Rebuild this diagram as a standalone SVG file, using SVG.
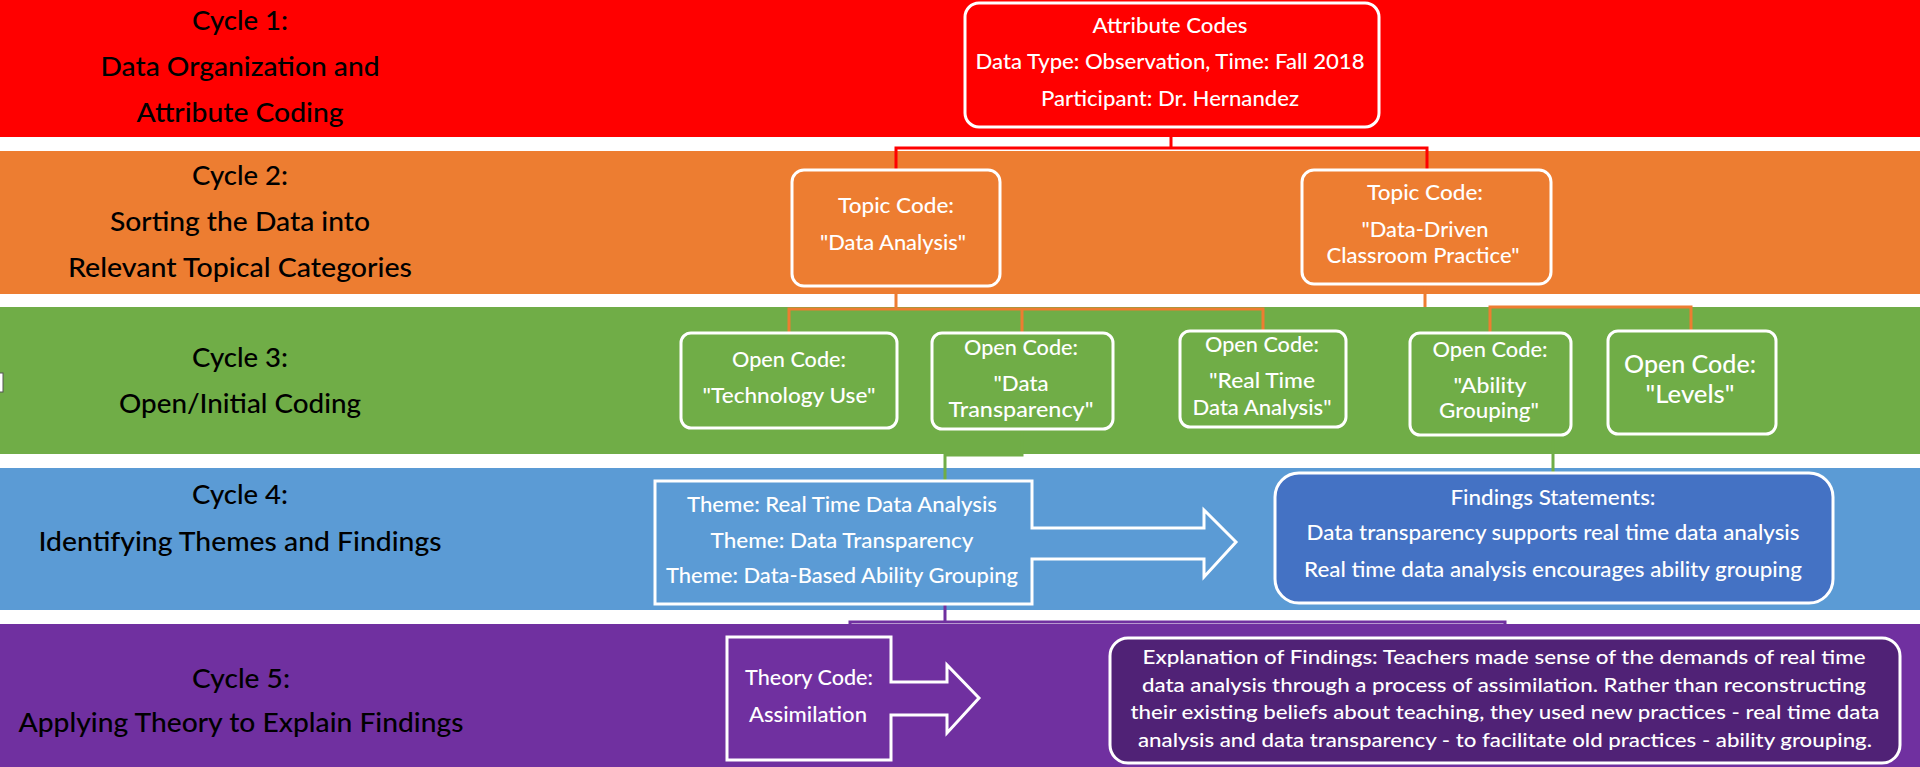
<svg xmlns="http://www.w3.org/2000/svg" width="1920" height="767" viewBox="0 0 1920 767">
<style>
  .lbl{font-family:Lato,"Liberation Sans",sans-serif;font-size:27px;font-weight:500;fill:#000;text-anchor:middle}
  .wt{font-family:Lato,"Liberation Sans",sans-serif;font-size:21px;font-weight:500;fill:#fff;text-anchor:middle}
  .wt2{font-family:Lato,"Liberation Sans",sans-serif;font-size:24px;font-weight:500;fill:#fff;text-anchor:middle}
  .ex{font-family:Lato,"Liberation Sans",sans-serif;font-size:20px;font-weight:500;fill:#fff;text-anchor:middle}
  .box{stroke:#fff;stroke-width:3}
  .conn{fill:none;stroke-width:3}
</style>
<rect width="1920" height="767" fill="#fff"/>
<g id="bands">
  <rect x="0" y="0" width="1920" height="137" fill="#FF0000"/>
  <rect x="0" y="151" width="1920" height="143" fill="#ED7D31"/>
  <rect x="0" y="307" width="1920" height="147" fill="#70AD47"/>
  <rect x="0" y="468" width="1920" height="142" fill="#5B9BD5"/>
  <rect x="0" y="624" width="1920" height="143" fill="#7030A0"/>
  <rect x="-1" y="373" width="4" height="19" fill="#fff" stroke="#555" stroke-width="1"/>
</g>
<g id="labels">
  <text class="lbl" x="240" y="30" textLength="96" lengthAdjust="spacingAndGlyphs">Cycle 1:</text>
  <text class="lbl" x="240" y="76" textLength="279" lengthAdjust="spacingAndGlyphs">Data Organization and</text>
  <text class="lbl" x="240" y="122" textLength="207" lengthAdjust="spacingAndGlyphs">Attribute Coding</text>
  <text class="lbl" x="240" y="185" textLength="96" lengthAdjust="spacingAndGlyphs">Cycle 2:</text>
  <text class="lbl" x="240" y="231" textLength="260" lengthAdjust="spacingAndGlyphs">Sorting the Data into</text>
  <text class="lbl" x="240" y="277" textLength="344" lengthAdjust="spacingAndGlyphs">Relevant Topical Categories</text>
  <text class="lbl" x="240" y="367" textLength="96" lengthAdjust="spacingAndGlyphs">Cycle 3:</text>
  <text class="lbl" x="240" y="413" textLength="242" lengthAdjust="spacingAndGlyphs">Open/Initial Coding</text>
  <text class="lbl" x="240" y="504" textLength="96" lengthAdjust="spacingAndGlyphs">Cycle 4:</text>
  <text class="lbl" x="240" y="551" textLength="403" lengthAdjust="spacingAndGlyphs">Identifying Themes and Findings</text>
  <text class="lbl" x="241" y="688" textLength="98" lengthAdjust="spacingAndGlyphs">Cycle 5:</text>
  <text class="lbl" x="241" y="732" textLength="445" lengthAdjust="spacingAndGlyphs">Applying Theory to Explain Findings</text>
</g>
<g id="connectors">
  <path class="conn" stroke="#FF0000" d="M1171,127 V148 M896,170 V148 H1427 V170"/>
  <path class="conn" stroke="#ED7D31" d="M896,286 V309 M789,333 V309 H1263 V331 M1022,309 V333"/>
  <path class="conn" stroke="#ED7D31" d="M1425,284 V307 M1490,333 V307 H1691 V331"/>
  <path class="conn" stroke="#70AD47" d="M1022,429 V455 H945 V481 M1553,434 V473"/>
  <path class="conn" stroke="#7030A0" d="M945,604 V622 M850,637 V622 H1505 V638"/>
</g>
<g id="attribute-codes">
  <rect class="box" x="965" y="3" width="414" height="124" rx="14" fill="#FF0000"/>
  <text class="wt" x="1170" y="33" textLength="155" lengthAdjust="spacingAndGlyphs">Attribute Codes</text>
  <text class="wt" x="1170" y="69" textLength="389" lengthAdjust="spacingAndGlyphs">Data Type: Observation, Time: Fall 2018</text>
  <text class="wt" x="1170" y="106" textLength="258" lengthAdjust="spacingAndGlyphs">Participant: Dr. Hernandez</text>
</g>
<g id="topic-data-analysis">
  <rect class="box" x="792" y="170" width="208" height="116" rx="12" fill="#ED7D31"/>
  <text class="wt" x="896" y="213" textLength="116" lengthAdjust="spacingAndGlyphs">Topic Code:</text>
  <text class="wt" x="893" y="250" textLength="146" lengthAdjust="spacingAndGlyphs">"Data Analysis"</text>
</g>
<g id="topic-data-driven">
  <rect class="box" x="1302" y="170" width="249" height="114" rx="12" fill="#ED7D31"/>
  <text class="wt" x="1425" y="200" textLength="116" lengthAdjust="spacingAndGlyphs">Topic Code:</text>
  <text class="wt" x="1425" y="237" textLength="127" lengthAdjust="spacingAndGlyphs">"Data-Driven</text>
  <text class="wt" x="1423" y="263" textLength="193" lengthAdjust="spacingAndGlyphs">Classroom Practice"</text>
</g>
<g id="open-technology-use">
  <rect class="box" x="681" y="333" width="216" height="95" rx="10" fill="#70AD47"/>
  <text class="wt" x="789" y="367" textLength="114" lengthAdjust="spacingAndGlyphs">Open Code:</text>
  <text class="wt" x="789" y="403" textLength="173" lengthAdjust="spacingAndGlyphs">"Technology Use"</text>
</g>
<g id="open-data-transparency">
  <rect class="box" x="932" y="333" width="181" height="96" rx="10" fill="#70AD47"/>
  <text class="wt" x="1021" y="355" textLength="114" lengthAdjust="spacingAndGlyphs">Open Code:</text>
  <text class="wt" x="1021" y="391" textLength="55" lengthAdjust="spacingAndGlyphs">"Data</text>
  <text class="wt" x="1021" y="417" textLength="145" lengthAdjust="spacingAndGlyphs">Transparency"</text>
</g>
<g id="open-real-time">
  <rect class="box" x="1180" y="331" width="166" height="96" rx="10" fill="#70AD47"/>
  <text class="wt" x="1262" y="352" textLength="114" lengthAdjust="spacingAndGlyphs">Open Code:</text>
  <text class="wt" x="1262" y="388" textLength="106" lengthAdjust="spacingAndGlyphs">"Real Time</text>
  <text class="wt" x="1262" y="415" textLength="139" lengthAdjust="spacingAndGlyphs">Data Analysis"</text>
</g>
<g id="open-ability-grouping">
  <rect class="box" x="1410" y="333" width="161" height="102" rx="10" fill="#70AD47"/>
  <text class="wt" x="1490" y="357" textLength="115" lengthAdjust="spacingAndGlyphs">Open Code:</text>
  <text class="wt" x="1490" y="393" textLength="73" lengthAdjust="spacingAndGlyphs">"Ability</text>
  <text class="wt" x="1489" y="418" textLength="100" lengthAdjust="spacingAndGlyphs">Grouping"</text>
</g>
<g id="open-levels">
  <rect class="box" x="1608" y="331" width="168" height="103" rx="10" fill="#70AD47"/>
  <text class="wt2" x="1690" y="373" textLength="132" lengthAdjust="spacingAndGlyphs">Open Code:</text>
  <text class="wt2" x="1690" y="403" textLength="89" lengthAdjust="spacingAndGlyphs">"Levels"</text>
</g>
<g id="themes">
  <path class="box" fill="#5B9BD5" d="M655,481 H1032 V528 H1204 V510 L1236,542 L1204,577 V559 H1032 V604 H655 Z"/>
  <text class="wt" x="842" y="512" textLength="310" lengthAdjust="spacingAndGlyphs">Theme: Real Time Data Analysis</text>
  <text class="wt" x="842" y="548" textLength="263" lengthAdjust="spacingAndGlyphs">Theme: Data Transparency</text>
  <text class="wt" x="842" y="583" textLength="352" lengthAdjust="spacingAndGlyphs">Theme: Data-Based Ability Grouping</text>
</g>
<g id="findings">
  <rect class="box" x="1275" y="473" width="558" height="130" rx="24" fill="#4472C4"/>
  <text class="wt" x="1553" y="505" textLength="205" lengthAdjust="spacingAndGlyphs">Findings Statements:</text>
  <text class="wt" x="1553" y="540" textLength="493" lengthAdjust="spacingAndGlyphs">Data transparency supports real time data analysis</text>
  <text class="wt" x="1553" y="577" textLength="498" lengthAdjust="spacingAndGlyphs">Real time data analysis encourages ability grouping</text>
</g>
<g id="theory">
  <path class="box" fill="#7030A0" d="M727,637 H891 V682 H947 V665 L979,698 L947,733 V715 H891 V760 H727 Z"/>
  <text class="wt" x="809" y="685" textLength="128" lengthAdjust="spacingAndGlyphs">Theory Code:</text>
  <text class="wt" x="808" y="722" textLength="118" lengthAdjust="spacingAndGlyphs">Assimilation</text>
</g>
<g id="explanation">
  <rect class="box" x="1110" y="638" width="790" height="125" rx="18" fill="#502276"/>
  <text class="ex" x="1504" y="664" textLength="723" lengthAdjust="spacingAndGlyphs">Explanation of Findings: Teachers made sense of the demands of real time</text>
  <text class="ex" x="1504" y="692" textLength="724" lengthAdjust="spacingAndGlyphs">data analysis through a process of assimilation. Rather than reconstructing</text>
  <text class="ex" x="1505" y="719" textLength="749" lengthAdjust="spacingAndGlyphs">their existing beliefs about teaching, they used new practices - real time data</text>
  <text class="ex" x="1505" y="747" textLength="734" lengthAdjust="spacingAndGlyphs">analysis and data transparency - to facilitate old practices - ability grouping.</text>
</g>
</svg>
